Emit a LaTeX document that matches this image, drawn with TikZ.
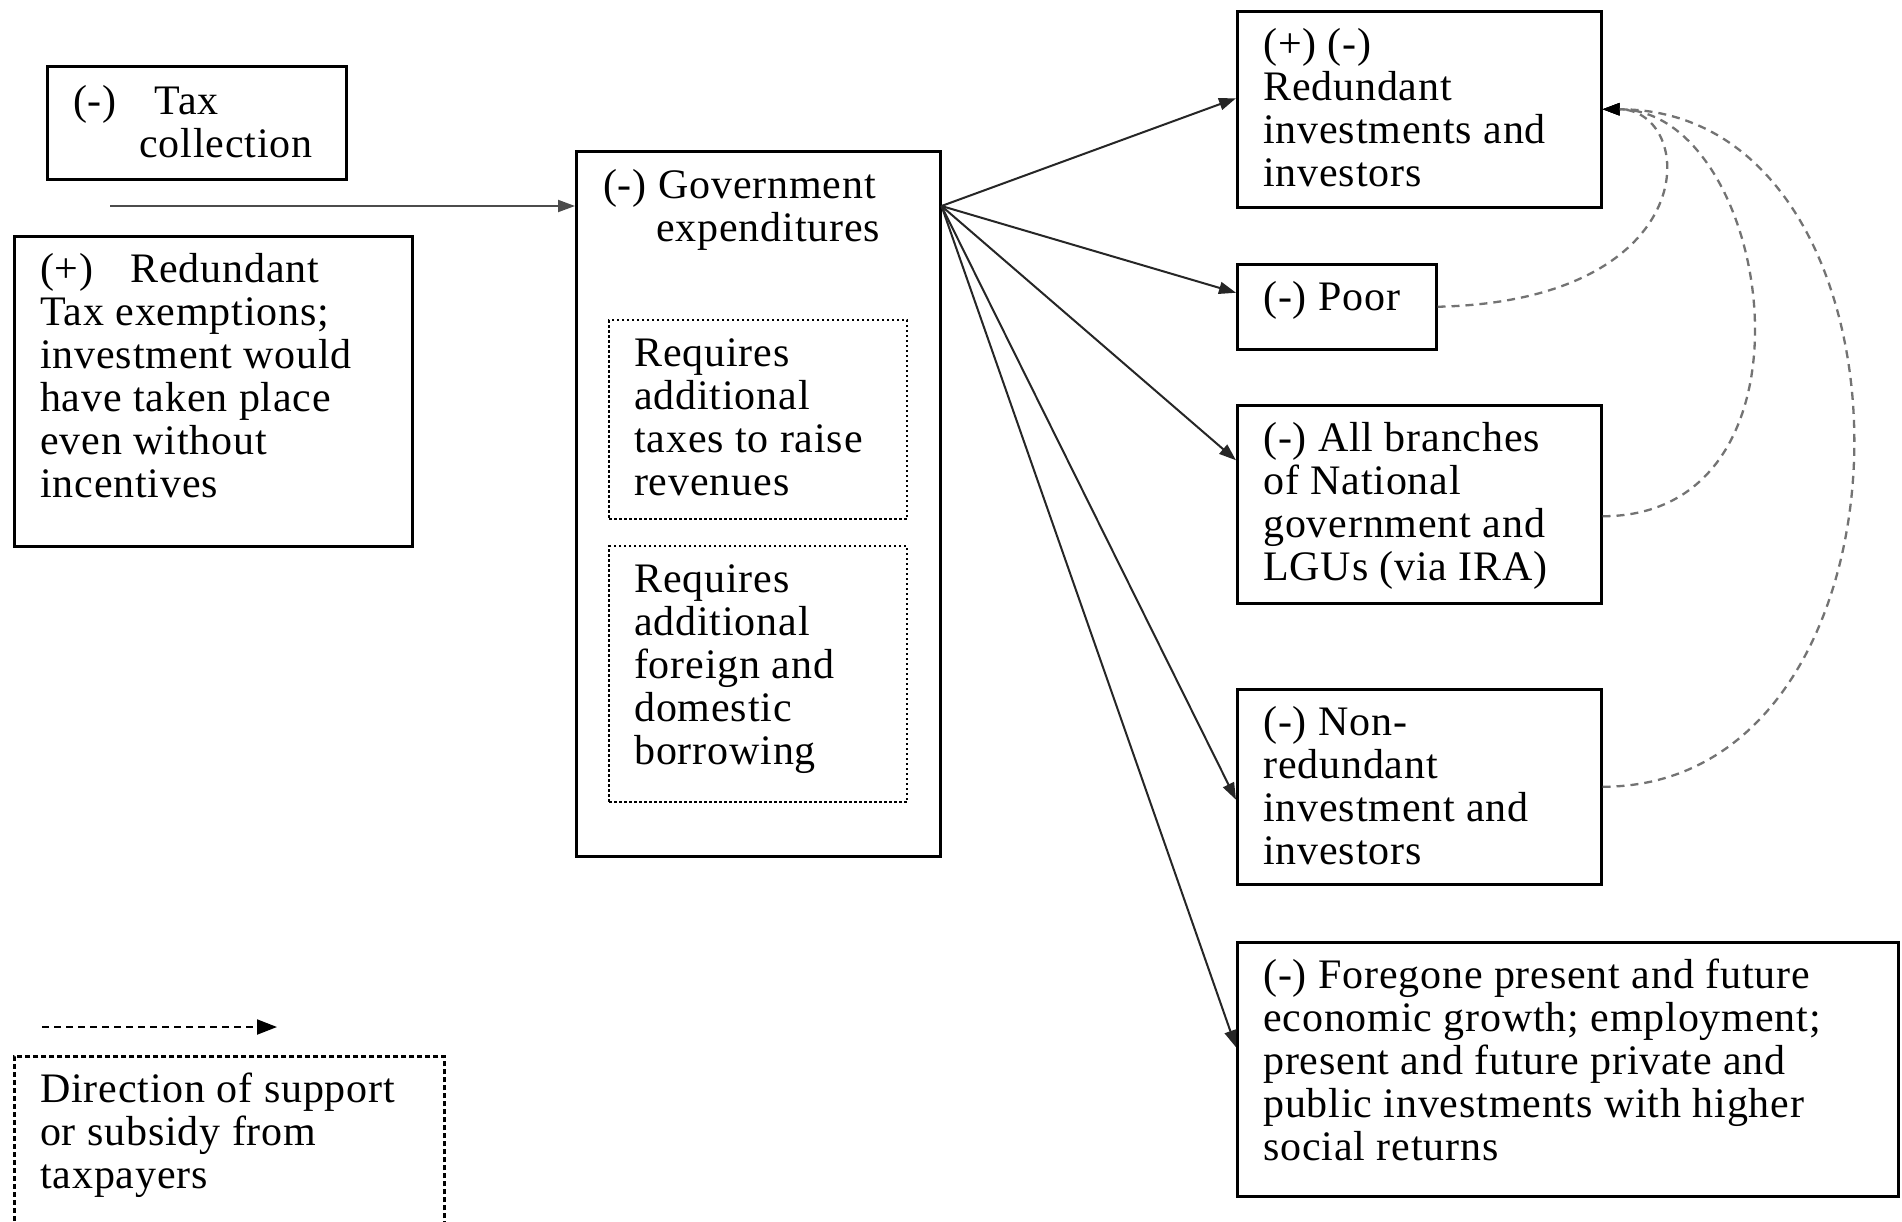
\documentclass[tikz,border=0pt]{standalone}
\usepackage{fontspec}
\setmainfont{Liberation Serif}[LetterSpace=2]
\usetikzlibrary{arrows.meta}
\begin{document}
\begin{tikzpicture}[x=1pt,y=-1pt,
  box/.style={draw, line width=2.5pt, anchor=north west, inner sep=0pt},
  dotbox/.style={draw, line width=2pt, dash pattern=on 2.5pt off 2.5pt, anchor=north west, inner sep=0pt},
  legbox/.style={draw, line width=2.5pt, dash pattern=on 5pt off 3pt, anchor=north west, inner sep=0pt},
  txt/.style={anchor=north west, align=left, inner sep=0pt, font=\fontsize{42}{43}\selectfont},
  flow/.style={line width=2pt, draw=black!85, -{Triangle[length=17pt,width=12pt]}},
  support/.style={line width=2.3pt, draw=black!55, dash pattern=on 8pt off 6pt, -{Triangle[length=17pt,width=12pt,color=black]}},
  legarrow/.style={line width=2pt, dash pattern=on 7pt off 5pt, -{Triangle[length=20pt,width=15pt]}}]
\useasboundingbox (0,0) rectangle (1902,1221);
\fill[white] (0,0) rectangle (1902,1221);

% boxes
\node[box, minimum width=299pt, minimum height=113pt] (tax) at (46,65) {};
\node[box, minimum width=398pt, minimum height=310pt] (red) at (13,235) {};
\node[box, minimum width=364pt, minimum height=705pt] (gov) at (575,150) {};
\node[dotbox, minimum width=298pt, minimum height=199pt] (in1) at (608,319) {};
\node[dotbox, minimum width=298pt, minimum height=256pt] (in2) at (608,545) {};
\node[box, minimum width=364pt, minimum height=196pt] (r1) at (1236,10) {};
\node[box, minimum width=199pt, minimum height=85pt] (poor) at (1236,263) {};
\node[box, minimum width=364pt, minimum height=198pt] (all) at (1236,404) {};
\node[box, minimum width=364pt, minimum height=195pt] (non) at (1236,688) {};
\node[box, minimum width=661pt, minimum height=254pt] (fore) at (1236,941) {};
\node[legbox, minimum width=430pt, minimum height=220pt] (leg) at (13,1055) {};

% texts
\node[txt] (taxt) at (73,85) {(-)\hspace*{38pt}Tax\\\hspace*{66pt}collection};
\node[txt] (redt) at (40,253) {(+)\hspace*{37pt}Redundant\\Tax exemptions;\\investment would\\have taken place\\even without\\incentives};
\node[txt] (govt) at (603,169) {(-) Government\\\hspace*{53pt}expenditures};
\node[txt] (in1t) at (634,338) {Requires\\additional\\taxes to raise\\revenues};
\node[txt] (in2t) at (634,564) {Requires\\additional\\foreign and\\domestic\\borrowing};
\node[txt] (r1t) at (1263,28) {(+) (-)\\Redundant\\investments and\\investors};
\node[txt] (poort) at (1263,281) {(-) Poor};
\node[txt] (allt) at (1263,422) {(-) All branches\\of National\\government and\\LGUs (via IRA)};
\node[txt] (nont) at (1263,706) {(-) Non-\\redundant\\investment and\\investors};
\node[txt] (foret) at (1263,959) {(-) Foregone present and future\\economic growth; employment;\\present and future private and\\public investments with higher\\social returns};
\node[txt] (legt) at (40,1073) {Direction of support\\or subsidy from\\taxpayers};

% input arrow
\coordinate (inl) at (110,206);
\draw[flow, draw=black!70] (inl) -- (inl -| gov.west);

% fan of arrows
\coordinate (src) at (gov.east |- inl);
\draw[flow] (src) -- ([yshift=11pt]r1.west);
\draw[flow] (src) -- ([yshift=14pt]poor.west);
\draw[flow] (src) -- ([yshift=44pt]all.west);
\draw[flow] (src) -- ([yshift=-13pt]non.west);
\draw[flow] (src) -- ([yshift=22pt]fore.west);

% support curves
\draw[support] (poor.east) .. controls +(270,-6) and +(95,0) .. (r1.east);
\draw[support] ([yshift=-12pt]all.east) .. controls +(230,0) and +(170,0) .. (r1.east);
\draw[support] (non.east) .. controls +(333,0) and +(333,0) .. (r1.east);

% legend arrow
\coordinate (la) at (42,1027);
\coordinate (lb) at (277,1027);
\draw[legarrow] (la) -- (lb);
\end{tikzpicture}
\end{document}
